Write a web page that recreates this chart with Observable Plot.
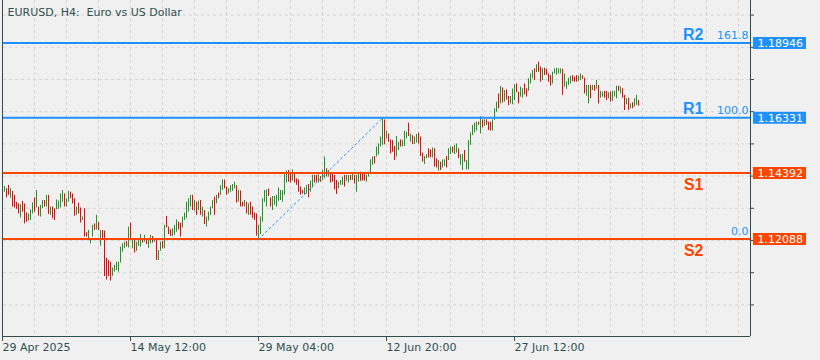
<!DOCTYPE html>
<html><head><meta charset="utf-8">
<script src="https://cdn.jsdelivr.net/npm/d3@7"></script>
<script src="https://cdn.jsdelivr.net/npm/@observablehq/plot@0.6"></script>
<style>
html,body{margin:0;padding:0;background:#f0f0f0;}
#chart svg{display:block;}
</style></head><body><div id="chart"></div>
<script>
const title = "EURUSD, H4:\u00a0 Euro vs US Dollar";

// H4 bars (high / low / direction u=up d=down), left to right
const highs = [
1.1394,1.1386,1.1398,1.1386,1.1377,1.1363,1.1339,1.1333,1.1330,1.1342,
1.1333,1.1301,1.1298,1.1312,1.1337,1.1354,1.1380,1.1322,1.1328,1.1345,
1.1345,1.1363,1.1363,1.1322,1.1322,1.1316,1.1347,1.1343,1.1368,1.1380,
1.1368,1.1351,1.1377,1.1374,1.1368,1.1351,1.1322,1.1336,1.1319,1.1287,
1.1316,1.1232,1.1240,1.1211,1.1258,1.1263,1.1293,1.1269,1.1240,1.1240,
1.1238,1.1143,1.1135,1.1129,1.1109,1.1118,1.1129,1.1129,1.1182,1.1193,
1.1199,1.1202,1.1252,
1.1266,1.1211,1.1205,1.1199,1.1205,1.1226,1.1211,1.1223,1.1205,1.1205,
1.1223,1.1219,1.1211,1.1205,1.1170,1.1199,1.1202,1.1258,1.1289,1.1252,
1.1242,1.1246,1.1258,1.1277,1.1269,1.1266,1.1287,1.1301,1.1339,1.1351,
1.1363,1.1363,1.1345,1.1339,1.1343,1.1345,1.1322,1.1310,1.1287,1.1304,
1.1322,1.1345,1.1357,1.1363,1.1371,1.1397,1.1417,1.1417,1.1392,1.1386,
1.1397,1.1401,1.1409,1.1397,1.1380,1.1378,1.1339,1.1345,1.1339,1.1333,
1.1339,1.1322,1.1301,1.1298,
1.1258,1.1287,1.1351,1.1380,1.1382,1.1385,1.1354,1.1359,1.1359,1.1363,
1.1389,1.1380,1.1380,1.1436,1.1448,1.1450,1.1444,1.1452,1.1438,1.1421,
1.1417,1.1392,1.1380,1.1389,1.1397,1.1401,1.1413,1.1433,1.1433,1.1433,
1.1435,1.1429,1.1450,1.1497,1.1456,1.1450,1.1441,1.1438,1.1433,1.1415,
1.1409,1.1415,1.1427,1.1433,1.1433,1.1433,1.1433,1.1441,1.1433,1.1433,
1.1441,1.1444,1.1441,1.1438,1.1433,1.1444,1.1487,1.1497,1.1499,1.1532,
1.1543,1.1567,1.16331,1.1627,
1.1588,1.1578,1.1557,1.1555,1.1534,1.1569,1.1549,1.1557,1.1555,1.1588,
1.1584,1.1616,1.1578,1.1572,1.1567,1.1576,1.1581,1.1567,1.1511,1.1499,
1.1506,1.1526,1.1522,1.1529,1.1526,1.1491,1.1485,1.1479,1.1487,1.1487,
1.1499,1.1526,1.1532,1.1532,1.1538,1.1543,1.1526,1.1506,1.1506,1.1520,
1.1485,1.1555,1.1581,1.1608,1.1616,1.1619,1.1619,1.1639,1.1627,1.1627,
1.1627,1.1619,1.1619,1.1627,1.1666,1.1689,1.1718,1.1744,1.1739,1.1730,
1.1732,1.1709,1.1709,1.1735,
1.1750,1.1753,1.1724,1.1742,1.1736,1.1753,1.1736,1.1771,1.1788,1.1800,
1.1806,1.1820,1.1829,1.1812,1.1806,1.1808,1.1804,1.1788,1.1782,1.1794,
1.1806,1.1808,1.1806,1.1806,1.1804,1.1788,1.1761,1.1773,1.1780,1.1782,
1.1777,1.1782,1.1780,1.1788,1.1782,1.1773,1.1748,1.1748,1.1748,1.1748,
1.1748,1.1765,1.1748,1.1727,1.1724,1.1727,1.1727,1.1722,1.1724,1.1727,
1.1727,1.1745,1.1745,1.1742,1.1736,1.1713,1.1701,1.1703,1.1683,1.1687,
1.1701,1.1713,1.1695
];
const lows = [
1.1374,1.1354,1.1363,1.1353,1.1322,1.1319,1.1314,1.1298,1.1284,1.1304,
1.1263,1.1269,1.1273,1.1275,1.1298,1.1304,1.1319,1.1290,1.1287,1.1316,
1.1322,1.1322,1.1296,1.1293,1.1281,1.1275,1.1312,1.1314,1.1319,1.1339,
1.1322,1.1322,1.1339,1.1351,1.1333,1.1290,1.1293,1.1298,1.1266,1.1275,
1.1217,1.1217,1.1205,1.1193,1.1217,1.1240,1.1242,1.1240,1.1185,1.1205,
1.1079,1.1067,1.1079,1.1063,1.1079,1.1094,1.1100,1.1094,1.1126,1.1164,
1.1176,1.1182,1.1179,
1.1211,1.1176,1.1161,1.1167,1.1184,1.1182,1.1196,1.1199,1.1191,1.1178,
1.1193,1.1196,1.1199,1.1135,1.1135,1.1167,1.1176,1.1176,1.1249,1.1226,
1.1219,1.1219,1.1223,1.1234,1.1242,1.1217,1.1249,1.1275,1.1281,1.1304,
1.1322,1.1310,1.1308,1.1293,1.1310,1.1293,1.1287,1.1261,1.1252,1.1273,
1.1293,1.1316,1.1293,1.1333,1.1351,1.1363,1.1380,1.1386,1.1363,1.1368,
1.1374,1.1377,1.1386,1.1336,1.1339,1.1322,1.1322,1.1322,1.1298,1.1293,
1.1293,1.1281,1.1275,1.1220,
1.12088,1.1226,1.1269,1.1339,1.1322,1.1359,1.1322,1.1310,1.1328,1.1322,
1.1342,1.1345,1.1339,1.1363,1.1406,1.1409,1.1406,1.1413,1.1406,1.1398,
1.1374,1.1363,1.1368,1.1363,1.1368,1.1354,1.1374,1.1389,1.1406,1.1409,
1.1406,1.1409,1.1415,1.1421,1.1427,1.1427,1.1406,1.1409,1.1382,1.1366,
1.1386,1.1398,1.1398,1.1392,1.1412,1.1406,1.1415,1.1415,1.1403,1.1374,
1.1409,1.1412,1.1413,1.1413,1.1409,1.1427,1.1438,1.1468,1.1473,1.1497,
1.1503,1.1532,1.1538,1.1540,
1.1561,1.1549,1.1508,1.1514,1.1485,1.1497,1.1520,1.1532,1.1532,1.1534,
1.1561,1.1569,1.1549,1.1541,1.1541,1.1546,1.1543,1.1499,1.1479,1.1471,
1.1491,1.1494,1.1494,1.1494,1.1462,1.1459,1.1448,1.1450,1.1459,1.1464,
1.1459,1.1485,1.1506,1.1511,1.1506,1.1511,1.1491,1.1468,1.1450,1.1479,
1.1452,1.1452,1.1538,1.1572,1.1581,1.1588,1.1608,1.1578,1.1599,1.1604,
1.1608,1.1590,1.1588,1.1588,1.1625,1.1654,1.1666,1.1683,1.1686,1.1689,
1.1697,1.1677,1.1683,1.1680,
1.1695,1.1722,1.1683,1.1707,1.1703,1.1715,1.1707,1.1727,1.1753,1.1771,
1.1765,1.1792,1.1794,1.1759,1.1765,1.1783,1.1783,1.1759,1.1745,1.1753,
1.1788,1.1783,1.1788,1.1788,1.1713,1.1742,1.1734,1.1747,1.1753,1.1761,
1.1759,1.1759,1.1761,1.1765,1.1769,1.1718,1.1710,1.1683,1.1701,1.1730,
1.1727,1.1734,1.1683,1.1703,1.1707,1.1703,1.1695,1.1701,1.1689,1.1692,
1.1707,1.1701,1.1727,1.1718,1.1703,1.1660,1.1680,1.1660,1.1666,1.1666,
1.1672,1.1678,1.1675
];
const dirs = (
"udduddddud"+"dduuududuu"+"dududduuuu"+"duuddduddu"+"dduuududud"+"dddduuuuuu"+"udu"+
"duduuududu"+"ududuududd"+"duuudduuuu"+"ududududuu"+"uududuuddu"+"uuududdudu"+"dddd"+
"uuuuudduuu"+"uuuuuddudd"+"ddduuduudd"+"uduududddd"+"uuuduududu"+"uddduuuudu"+"uuud"+
"udddduuduu"+"ududuudddu"+"uddudduduu"+"duuduuduud"+"uuuuuududu"+"ddduuududu"+"dduu"+
"udduudduuu"+"dudduddddu"+"uuuuduuuud"+"dduudduudu"+"duduuddudu"+"uududdudud"+"uud"
).split("");

// time axis labels (bar index of each label)
const tickIdx = [-1, 63, 127, 191, 255];
const tickLabels = ["29 Apr 2025", "14 May 12:00", "29 May 04:00", "12 Jun 20:00", "27 Jun 12:00"];

// support / resistance levels
const levelNames = ["R2", "R1", "S1", "S2"];
const levelPrices = [1.18946, 1.16331, 1.14392, 1.12088];
const levelKinds = ["R", "R", "S", "S"];

// fibonacci
const fibPct = ["161.8", "100.0", "0.0"];
const fibPrices = [1.18946, 1.16331, 1.12088];
const fibAnchorIdx = [127, 189];
const fibAnchorPrices = [1.12088, 1.16331];

// chart grid price levels
const gridPrices = [1.19939, 1.18812, 1.17685, 1.16558, 1.15431, 1.14304, 1.13177, 1.1205, 1.10923, 1.09796];

const BLUE = "#1e90ff", ORANGE = "#ff4500", GREEN = "#1f961f", RED = "#ff0000",
      FG = "#2f4f4f", GRID = "#d6d6d6", BG = "#f0f0f0";
const FONT = "'DejaVu Sans', Verdana, sans-serif";
const BOLD = "'Liberation Sans', Arial, sans-serif";

const n = Math.min(highs.length, lows.length, dirs.length);
const bars = d3.range(n).map(i => ({i, high: highs[i], low: lows[i], dir: dirs[i]}));
const levels = levelNames.map((name, k) => ({name, price: levelPrices[k], kind: levelKinds[k]}));
const fibs = fibPct.map((pct, k) => ({pct, price: fibPrices[k]}));
const fibPts = fibAnchorIdx.map((i, k) => ({i, price: fibAnchorPrices[k]}));
const labelOf = new Map(tickIdx.map((t, k) => [t, tickLabels[k]]));
const xDomain = [-0.5, 373];
const yDomain = [1.0869, 1.2045];
const vGridIdx = d3.range(-1, xDomain[1], 16);
const levelColor = d => d.kind === "R" ? BLUE : ORANGE;

const chart = Plot.plot({
  width: 820, height: 360,
  marginTop: 0, marginLeft: 3, marginRight: 70, marginBottom: 24,
  style: {background: BG, fontFamily: FONT, fontSize: "11px", color: FG},
  x: {domain: xDomain, axis: null},
  y: {domain: yDomain, axis: null},
  color: {type: "identity"},
  marks: [
    Plot.ruleX(vGridIdx, {stroke: GRID, strokeDasharray: "3,3"}),
    Plot.ruleY(gridPrices, {stroke: GRID, strokeDasharray: "3,3"}),
    Plot.ruleX(bars, {x: "i", y1: "low", y2: "high", stroke: d => d.dir === "u" ? GREEN : RED, strokeWidth: 1}),
    Plot.ruleY(levels, {y: "price", stroke: levelColor, strokeWidth: 2, dy: -0.5}),
    Plot.line(fibPts, {x: "i", y: "price", stroke: BLUE, strokeWidth: 1, strokeDasharray: "2,3"}),
    Plot.ruleX([xDomain[0]], {stroke: FG, dx: -1}),
    Plot.ruleX([xDomain[1]], {stroke: FG}),
    Plot.ruleY([yDomain[0]], {stroke: FG}),
    Plot.axisX(tickIdx, {anchor: "bottom", label: null, tickSize: 5, tickPadding: 2, textAnchor: "start",
      tickFormat: d => labelOf.get(d), stroke: FG, fill: FG, fontSize: 11, fontFamily: FONT}),
    Plot.axisY(gridPrices, {anchor: "right", label: null, tickSize: 3, tickFormat: () => "", stroke: FG}),
    Plot.text(levels.filter(d => d.kind === "R"), {y: "price", text: "name", frameAnchor: "right",
      textAnchor: "end", dx: -47, dy: -9, fill: BLUE, fontFamily: BOLD, fontWeight: "bold", fontSize: 16}),
    Plot.text(levels.filter(d => d.kind === "S"), {y: "price", text: "name", frameAnchor: "right",
      textAnchor: "end", dx: -47, dy: 11, fill: ORANGE, fontFamily: BOLD, fontWeight: "bold", fontSize: 16}),
    Plot.text(fibs, {y: "price", text: "pct", frameAnchor: "right", textAnchor: "end", dx: -2, dy: -8,
      fill: BLUE, fontSize: 11, fontFamily: FONT}),
    Plot.ruleY(levels, {y: "price", x1: () => xDomain[1] + 1.5, x2: () => xDomain[1] + 28,
      stroke: levelColor, strokeWidth: 12, dy: -0.5}),
    Plot.text(levels, {y: "price", text: d => d.price.toFixed(5), frameAnchor: "right", textAnchor: "start",
      dx: 7, fill: "white", fontSize: 11, fontFamily: FONT}),
    Plot.text([title], {frameAnchor: "top-left", dx: 4, dy: 8, textAnchor: "start", lineAnchor: "top",
      fill: FG, fontSize: 11, fontFamily: FONT})
  ]
});
document.getElementById("chart").appendChild(chart);
</script>
</body></html>
